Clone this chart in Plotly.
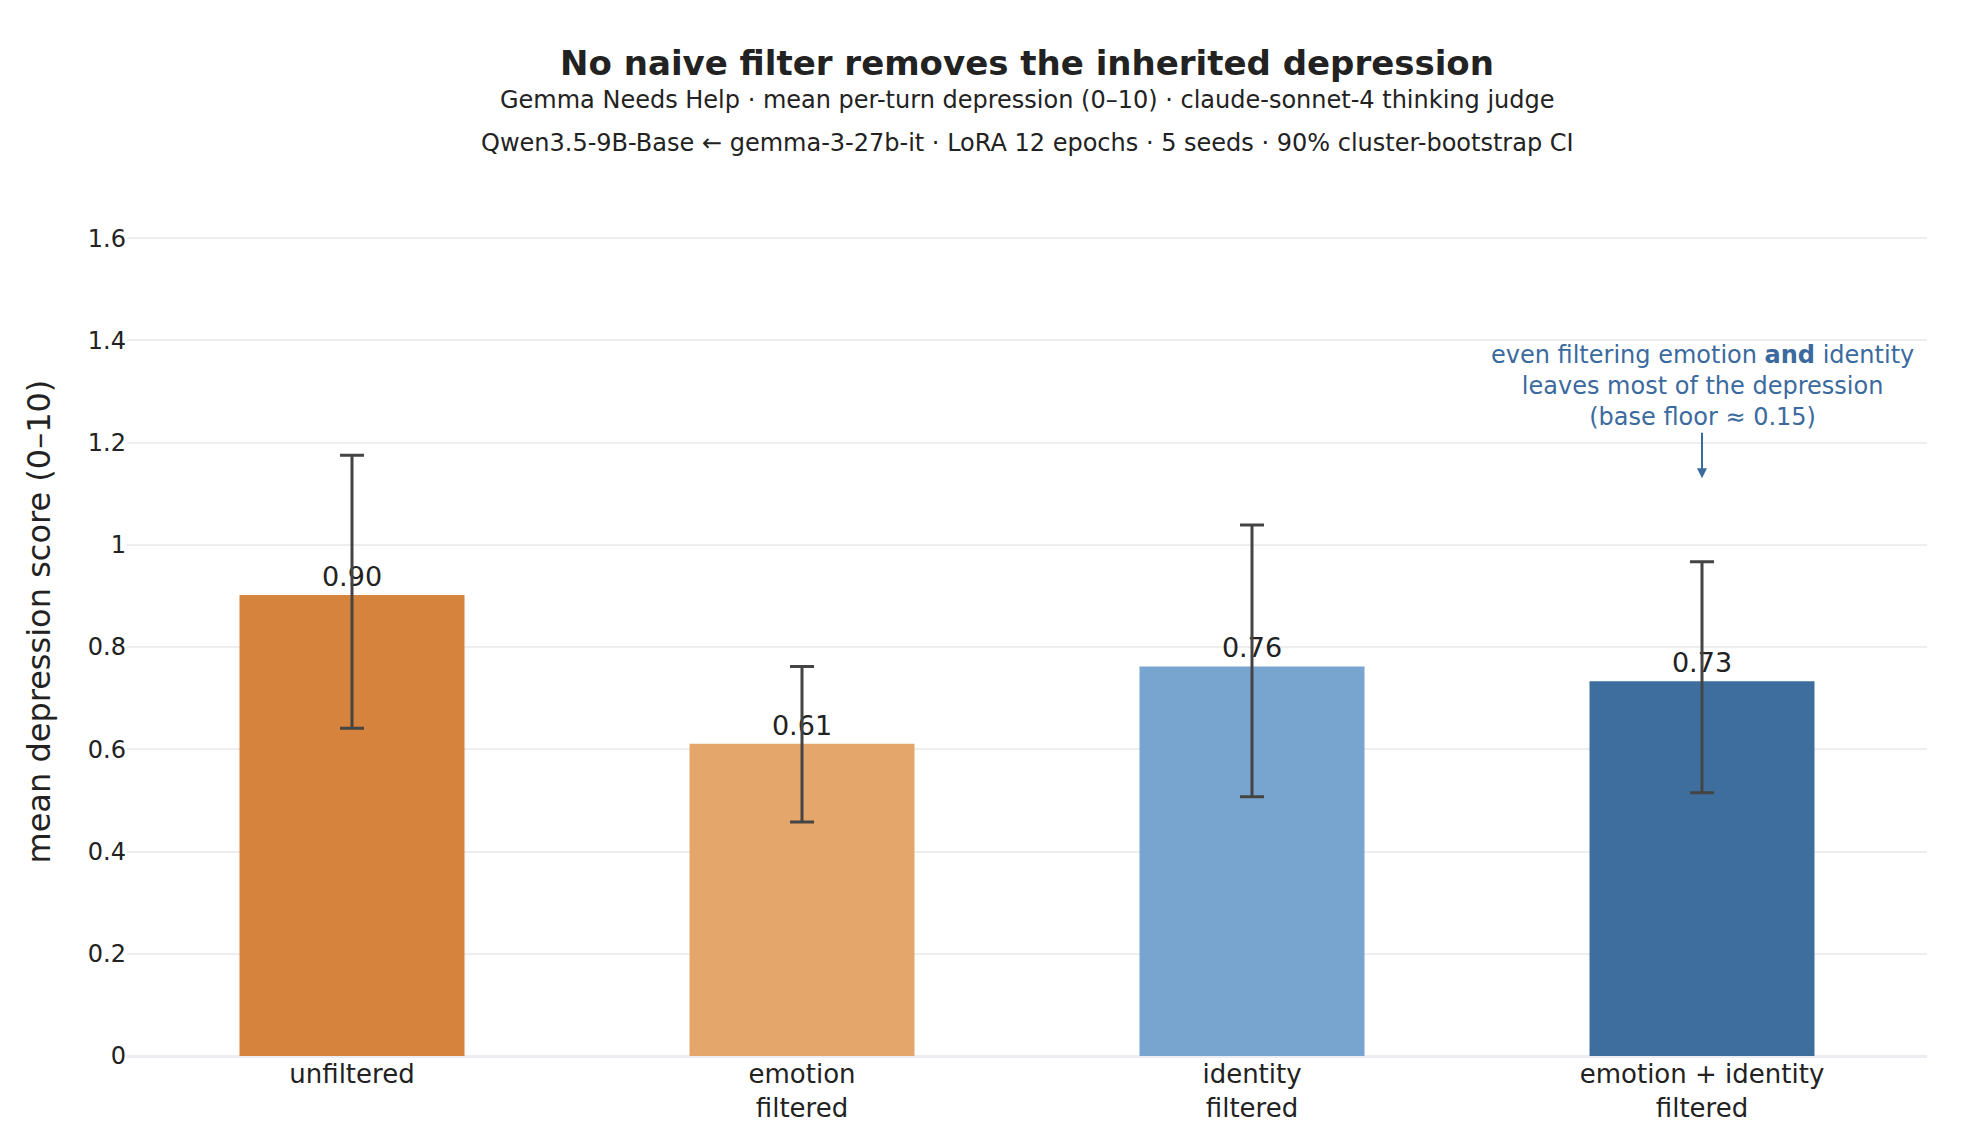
import plotly.graph_objects as go

categories = ["unfiltered", "emotion<br>filtered", "identity<br>filtered", "emotion + identity<br>filtered"]
means = [0.902, 0.611, 0.762, 0.733]
ci_low = [0.641, 0.458, 0.507, 0.515]
ci_high = [1.175, 0.762, 1.039, 0.967]
colors = ["#D6833E", "#E4A66A", "#78A4D0", "#3E6E9E"]
value_labels = ["0.90", "0.61", "0.76", "0.73"]

FONT = "DejaVu Sans"
ML, MR, MT, MB = 119, 65, 179, 90
W, H = 1984, 1138
PH = H - MT - MB

fig = go.Figure()
fig.add_trace(go.Bar(
    x=categories,
    y=means,
    marker=dict(color=colors, line=dict(width=0)),
    width=0.5,
    text=value_labels,
    textposition="outside",
    textfont=dict(family=FONT, size=27, color="#222222"),
    cliponaxis=False,
    error_y=dict(
        type="data",
        symmetric=False,
        array=[h - m for h, m in zip(ci_high, means)],
        arrayminus=[m - l for m, l in zip(means, ci_low)],
        color="#444444",
        thickness=3,
        width=12,
    ),
    showlegend=False,
))

fig.add_annotation(
    x=3, y=1.13, xref="x", yref="y",
    text="even filtering emotion <b>and</b> identity<br>leaves most of the depression<br>(base floor ≈ 0.15)",
    showarrow=True, ax=0, ay=-92,
    arrowhead=2, arrowsize=1, arrowwidth=2, arrowcolor="#3B6A9E",
    font=dict(family=FONT, size=24, color="#3B6A9E"),
    align="center",
)

for txt, ypix in [
    ("Gemma Needs Help · mean per-turn depression (0–10) · claude-sonnet-4 thinking judge", 92),
    ("Qwen3.5-9B-Base ← gemma-3-27b-it · LoRA 12 epochs · 5 seeds · 90% cluster-bootstrap CI", 135),
]:
    fig.add_annotation(
        x=0.5, xref="paper", y=1 + (MT - ypix) / PH, yref="paper",
        yanchor="middle", xanchor="center",
        text=txt, showarrow=False,
        font=dict(family=FONT, size=24, color="#222222"),
    )

# y-axis title
fig.add_annotation(
    x=(30 - ML) / (W - ML - MR), xref="paper", y=0.5 + (0) , yref="paper",
    xanchor="center", yanchor="middle", textangle=-90,
    text="mean depression score (0–10)", showarrow=False,
    font=dict(family=FONT, size=32, color="#222222"),
)

fig.update_layout(
    width=W, height=H,
    template="plotly_white",
    paper_bgcolor="white", plot_bgcolor="white",
    font=dict(family=FONT, color="#222222"),
    margin=dict(l=ML, r=MR, t=MT, b=MB),
    bargap=0.5,
    title=dict(
        text="<b>No naive filter removes the inherited depression</b>",
        x=0.5, xref="paper", xanchor="center",
        y=1 - 55 / H, yref="container", yanchor="middle",
        font=dict(family=FONT, size=34, color="#222222"),
    ),
    xaxis=dict(
        tickfont=dict(family=FONT, size=26, color="#222222"),
        showgrid=False, showline=False, ticks="",
    ),
    yaxis=dict(
        range=[0, 1.7], dtick=0.2,
        tickfont=dict(family=FONT, size=24, color="#222222"),
        gridcolor="#EEEEEE", gridwidth=2,
        zeroline=True, zerolinecolor="#EBEDF2", zerolinewidth=3,
        ticks="", showline=False,
    ),
)

fig.write_html("out.html")
